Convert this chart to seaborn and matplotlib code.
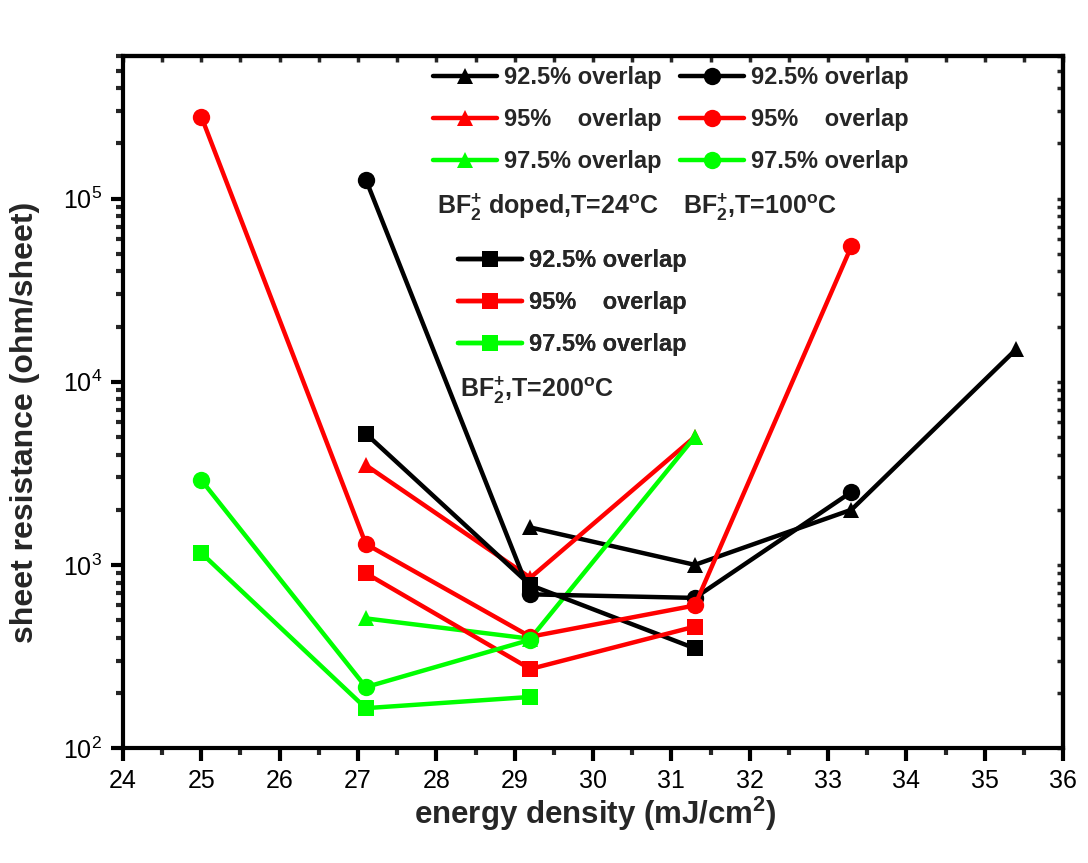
import matplotlib
matplotlib.use("Agg")
import matplotlib.pyplot as plt
import seaborn as sns
import pandas as pd
from matplotlib.ticker import LogLocator, MultipleLocator, NullFormatter, LogFormatterMathtext

sns.set_style("ticks")
plt.rcParams['font.family'] = ['Liberation Sans', 'DejaVu Sans']
plt.rcParams['mathtext.fontset'] = 'custom'
plt.rcParams['mathtext.rm'] = 'Liberation Sans'
plt.rcParams['mathtext.bf'] = 'Liberation Sans:bold'
plt.rcParams['mathtext.it'] = 'Liberation Sans:italic'

# ---- data ----
# BF2+ doped, T=24C (triangles)
x_t24_925 = [29.2, 31.3, 33.3, 35.4]
y_t24_925 = [1600, 1000, 2000, 15000]
x_t24_95 = [27.1, 29.2, 31.3]
y_t24_95 = [3500, 850, 5000]
x_t24_975 = [27.1, 29.2, 31.3]
y_t24_975 = [510, 395, 5000]
# BF2+, T=100C (circles)
x_t100_925 = [27.1, 29.2, 31.3, 33.3]
y_t100_925 = [127000, 690, 660, 2500]
x_t100_95 = [25.0, 27.1, 29.2, 31.3, 33.3]
y_t100_95 = [280000, 1300, 405, 600, 55000]
x_t100_975 = [25.0, 27.1, 29.2]
y_t100_975 = [2900, 215, 390]
# BF2+, T=200C (squares)
x_t200_925 = [27.1, 29.2, 31.3]
y_t200_925 = [5200, 775, 350]
x_t200_95 = [27.1, 29.2, 31.3]
y_t200_95 = [900, 270, 460]
x_t200_975 = [25.0, 27.1, 29.2]
y_t200_975 = [1160, 165, 190]

labels = ["92.5% overlap", "95%    overlap", "97.5% overlap"]
colors = ["#000000", "#FF0000", "#00FF00"]
titles = [r"BF$_\mathbf{2}^\mathbf{+}$ doped,T=24$^\mathbf{o}$C",
          r"BF$_\mathbf{2}^\mathbf{+}$,T=100$^\mathbf{o}$C",
          r"BF$_\mathbf{2}^\mathbf{+}$,T=200$^\mathbf{o}$C"]
xlabel = r"energy density (mJ/cm$^\mathbf{2}$)"
ylabel = "sheet resistance (ohm/sheet)"

W, H = 1088, 863
fig = plt.figure(figsize=(W / 100, H / 100), dpi=100)
AX_L, AX_R, AX_T, AX_B = 123, 1063, 56, 748
ax = fig.add_axes([AX_L / W, 1 - AX_B / H, (AX_R - AX_L) / W, (AX_B - AX_T) / H])

LW = 3.2
groups = {
    "tri": ("^", 12, [(x_t24_925, y_t24_925), (x_t24_95, y_t24_95), (x_t24_975, y_t24_975)]),
    "sq": ("s", 11, [(x_t200_925, y_t200_925), (x_t200_95, y_t200_95), (x_t200_975, y_t200_975)]),
    "circ": ("o", 12.5, [(x_t100_925, y_t100_925), (x_t100_95, y_t100_95), (x_t100_975, y_t100_975)]),
}
handles = {}
for key, (mk, ms, series) in groups.items():
    hs = []
    for (xs, ys), c, lab in zip(series, colors, labels):
        df = pd.DataFrame({"x": xs, "y": ys})
        n0 = len(ax.lines)
        sns.lineplot(data=df, x="x", y="y", ax=ax, color=c, marker=mk, markersize=ms,
                     markeredgecolor=c, markeredgewidth=0, linewidth=LW,
                     estimator=None, sort=False, legend=False)
        hs.append(ax.lines[n0])
    handles[key] = hs

ax.set_yscale("log")
ax.set_xlim(24, 36)
ax.set_ylim(100, 6e5)
ax.xaxis.set_major_locator(MultipleLocator(1))
ax.xaxis.set_minor_locator(MultipleLocator(0.5))
ax.yaxis.set_major_locator(LogLocator(base=10, numticks=10))
ax.yaxis.set_minor_locator(LogLocator(base=10, subs=range(2, 10), numticks=20))
ax.yaxis.set_minor_formatter(NullFormatter())
ax.yaxis.set_major_formatter(LogFormatterMathtext())

for s in ax.spines.values():
    s.set_linewidth(3)
    s.set_color("black")
ax.tick_params(which="major", direction="out", length=9, width=3, labelsize=18, pad=6,
               colors="black")
ax.tick_params(which="minor", direction="out", length=5, width=3)

# mirrored inward ticks on top and right
top = ax.secondary_xaxis("top")
top.xaxis.set_major_locator(MultipleLocator(1))
top.xaxis.set_minor_locator(MultipleLocator(0.5))
top.tick_params(which="both", direction="in", length=4, width=2.5, labeltop=False)
top.spines["top"].set_linewidth(3)
right = ax.secondary_yaxis("right")
right.yaxis.set_major_locator(LogLocator(base=10, numticks=10))
right.yaxis.set_minor_locator(LogLocator(base=10, subs=range(2, 10), numticks=20))
right.tick_params(which="both", direction="in", length=4, width=2.5, labelright=False)
right.yaxis.set_minor_formatter(NullFormatter())
right.spines["right"].set_linewidth(3)

ax.set_xlabel(xlabel, fontsize=22.5, fontweight="bold")
ax.set_ylabel(ylabel, fontsize=23, fontweight="bold")
ax.xaxis.set_label_coords((595 - AX_L) / (AX_R - AX_L), (AX_B - 795) / (AX_B - AX_T))
ax.yaxis.set_label_coords((40 - AX_L) / (AX_R - AX_L), (AX_B - 422) / (AX_B - AX_T))

FS = 17
def make_legend(hs, xpx, ypx):
    leg = ax.legend(hs, labels, loc="upper left",
                    bbox_to_anchor=(xpx / W, 1 - ypx / H), bbox_transform=fig.transFigure,
                    frameon=False, prop={"weight": "bold", "size": FS},
                    handlelength=2.7, handletextpad=0.3, labelspacing=0.8,
                    borderpad=0, borderaxespad=0)
    ax.add_artist(leg)

make_legend(handles["tri"], 433, 66)
make_legend(handles["circ"], 680, 66)
make_legend(handles["sq"], 458, 249)

FT = 18
fig.text(437 / W, 1 - 207 / H, titles[0], fontsize=FT, fontweight="bold", va="center", ha="left")
fig.text(683 / W, 1 - 207 / H, titles[1], fontsize=FT, fontweight="bold", va="center", ha="left")
fig.text(460 / W, 1 - 390 / H, titles[2], fontsize=FT, fontweight="bold", va="center", ha="left")

fig.savefig("out.png", dpi=100, facecolor="white")
